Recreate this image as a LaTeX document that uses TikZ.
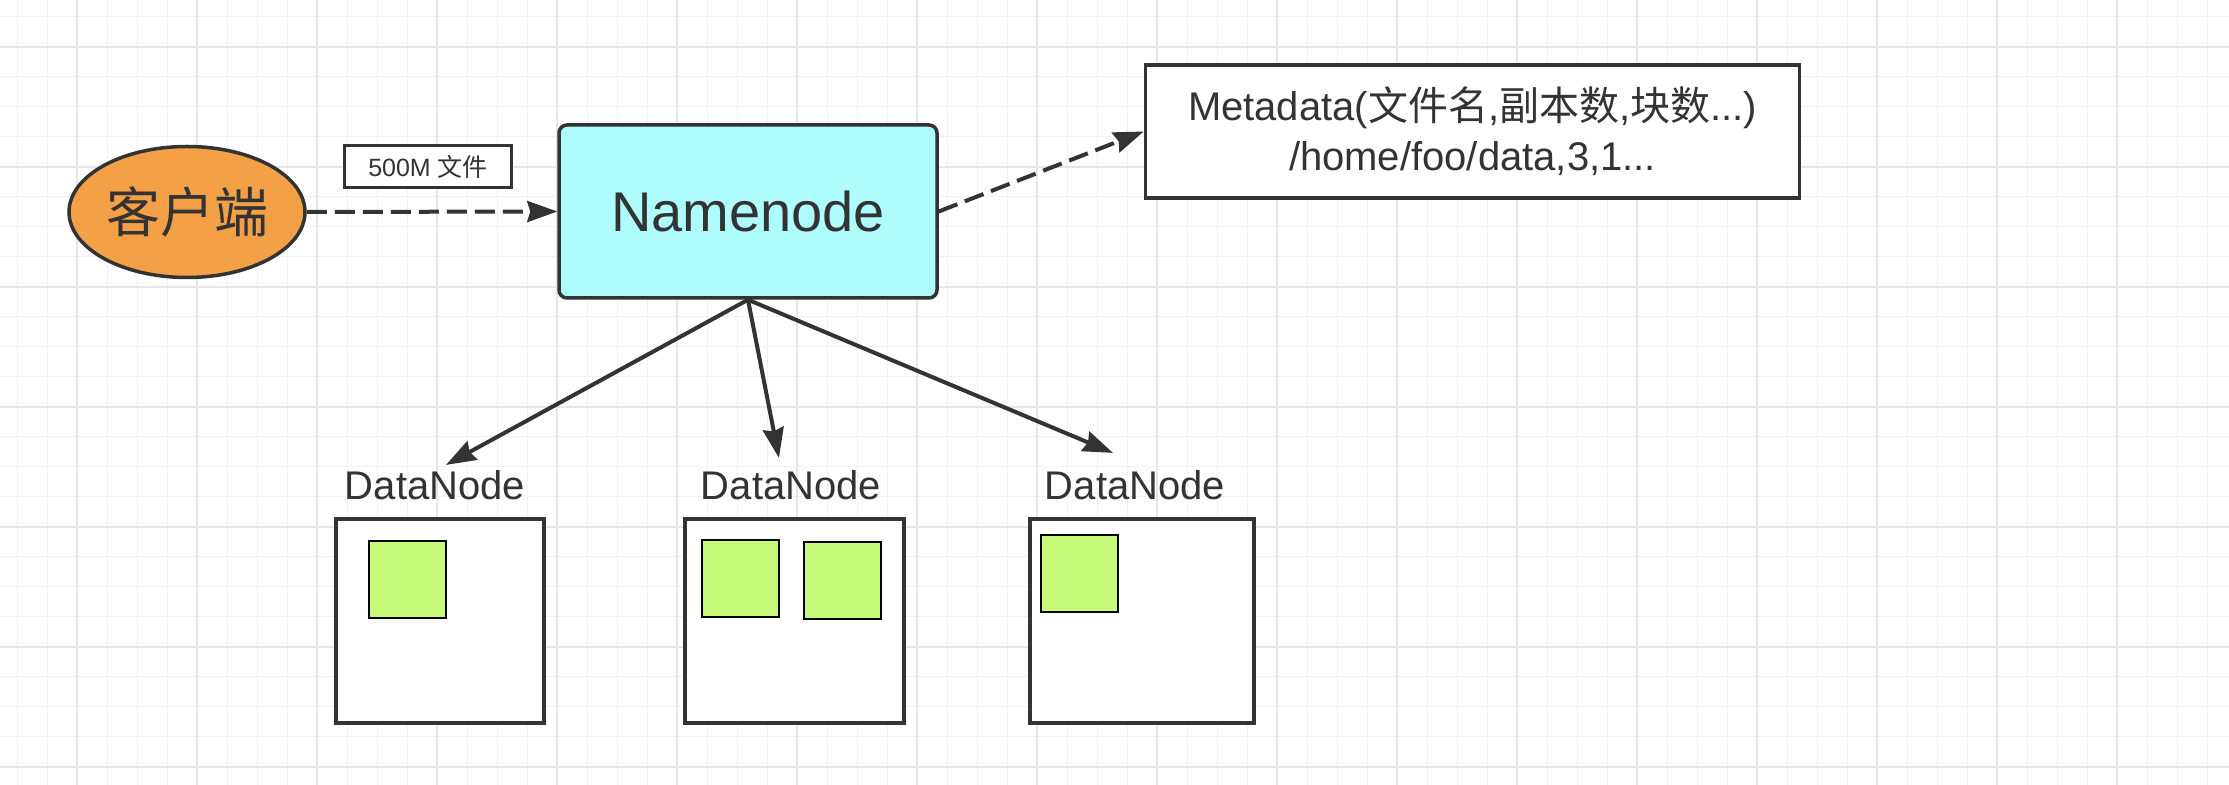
\documentclass[tikz,border=0pt]{standalone}
\usepackage{fontspec}
\setmainfont{Liberation Sans}
\newfontfamily\cjk{Noto Sans CJK SC}
\usetikzlibrary{shapes.geometric,arrows.meta}
\definecolor{inkgray}{HTML}{333333}
\definecolor{clientorange}{HTML}{F4A047}
\definecolor{nnaqua}{HTML}{AFFCFD}
\definecolor{blockgreen}{HTML}{C6F97A}
\definecolor{gridminor}{HTML}{F2F2F2}
\definecolor{gridmajor}{HTML}{E6E6E6}
\tikzset{
    client/.style={ellipse, draw=inkgray, fill=clientorange, line width=1.75pt,
        minimum width=118pt, minimum height=65.5pt, inner sep=0pt, text=inkgray,
        font=\cjk\fontsize{27}{30}\selectfont},
    tag/.style={rectangle, draw=inkgray, fill=white, line width=1.5pt,
        minimum width=83.5pt, minimum height=21pt, inner sep=0pt, text=inkgray,
        font=\fontsize{12.5}{15}\selectfont},
    namebox/.style={rectangle, rounded corners=4pt, draw=inkgray, fill=nnaqua,
        line width=1.75pt, minimum width=189pt, minimum height=86.5pt, text=inkgray,
        font=\fontsize{28}{32}\selectfont},
    metabox/.style={rectangle, draw=inkgray, fill=white, line width=1.75pt,
        minimum width=327pt, minimum height=66.5pt, align=center, text=inkgray,
        font=\fontsize{20}{25}\selectfont},
    dnlabel/.style={inner sep=2.5pt, text=inkgray, font=\fontsize{20}{24}\selectfont},
    dnbox/.style={rectangle, draw=inkgray, fill=white, line width=1.75pt, minimum height=102pt},
    block/.style={rectangle, draw=black, fill=blockgreen, line width=1pt,
        minimum width=38.5pt, minimum height=38.5pt},
    flow/.style={-{Stealth[length=15pt,width=10.5pt,inset=1.5pt]}, line width=2pt, color=inkgray},
    dashflow/.style={flow, dash pattern=on 10pt off 4pt},
    gridthin/.style={gridminor, line width=0.5pt},
    gridthick/.style={gridmajor, line width=0.6pt}
}
\begin{document}
\begin{tikzpicture}[x=0.5pt, y=-0.5pt]
    \useasboundingbox (0,0) rectangle (2229,785);
    \fill[white] (0,0) rectangle (2229,785);
    % background grid
    \foreach \gx in {17,47,...,2229} \draw[gridthin] (\gx,0) -- (\gx,785);
    \foreach \gy in {17,47,...,785} \draw[gridthin] (0,\gy) -- (2229,\gy);
    \foreach \gx in {77,197,...,2229} \draw[gridthick] (\gx,0) -- (\gx,785);
    \foreach \gy in {47,167,...,785} \draw[gridthick] (0,\gy) -- (2229,\gy);

    \node[client] (client) at (187,212) {客户端};
    \node[tag] (size) at (428,167) {500M {\cjk 文件}};
    \node[namebox] (nn) at (748,211.5) {Namenode};
    \node[metabox] (meta) at (1472.5,131.5)
        {Metadata({\cjk 文件名},{\cjk 副本数},{\cjk 块数}...)\\/home/foo/data,3,1...};

    \node[dnlabel] (dn1) at (435,485) {DataNode};
    \node[dnlabel] (dn2) at (791,485) {DataNode};
    \node[dnlabel] (dn3) at (1135,485) {DataNode};

    \node[dnbox, minimum width=104pt] (box1) at (440,621) {};
    \node[dnbox, minimum width=109.5pt] (box2) at (794.5,621) {};
    \node[dnbox, minimum width=112pt] (box3) at (1142,621) {};

    \node[block] (blk1) at (407,580) {};
    \node[block] (blk2) at (740,579) {};
    \node[block] (blk3) at (842,581) {};
    \node[block] (blk4) at (1079.5,574) {};

    \draw[dashflow] (client.east) -- (nn.west);
    \draw[dashflow] (nn.east) -- (meta.west);
    \draw[flow] (nn.south) -- ([xshift=5.5pt]dn1.north);
    \draw[flow] (nn.south) -- ([xshift=-6pt,yshift=3.5pt]dn2.north);
    \draw[flow] (nn.south) -- ([xshift=-11pt,yshift=6pt]dn3.north);
\end{tikzpicture}
\end{document}
